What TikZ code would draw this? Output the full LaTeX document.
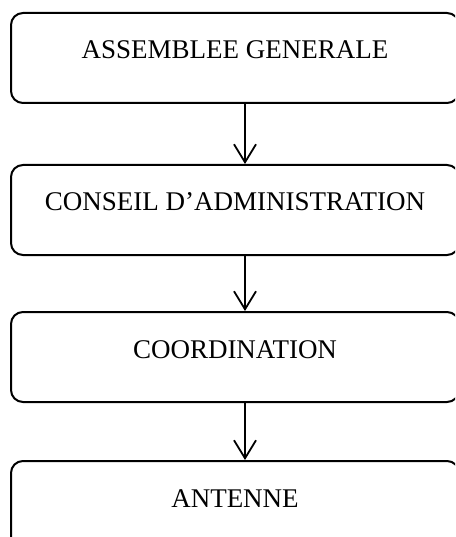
\documentclass[tikz,border=0pt]{standalone}
\usepackage{fontspec}
\setmainfont{Liberation Serif}
\usepackage{tikz}
\usetikzlibrary{arrows.meta, positioning}

\begin{document}
\begin{tikzpicture}[
        box/.style={draw, line width=2pt, rounded corners=12pt, minimum width=448pt,
          text height=46pt, text depth=44pt, inner sep=0pt, font=\fontsize{27pt}{32pt}\selectfont},
        arr/.style={-{Straight Barb[length=18pt, width=22pt, line width=1.8pt]}, line width=1.8pt}
      ]
      \useasboundingbox (0,0) rectangle (455pt,-537pt);
      \clip (0,0) rectangle (455pt,-537pt);
      \node[box, anchor=north] (ag) at (235pt,-12pt) {ASSEMBLEE GENERALE};
      \node[box, below=60pt of ag] (ca) {CONSEIL D’ADMINISTRATION};
      \node[box, below=55pt of ca] (coord) {COORDINATION};
      \node[box, below=57pt of coord] (ant) {ANTENNE};
      \draw[arr] ([xshift=10pt]ag.south) -- ([xshift=10pt]ca.north);
      \draw[arr] ([xshift=10pt]ca.south) -- ([xshift=10pt]coord.north);
      \draw[arr] ([xshift=10pt]coord.south) -- ([xshift=10pt]ant.north);
    \end{tikzpicture}
\end{document}
